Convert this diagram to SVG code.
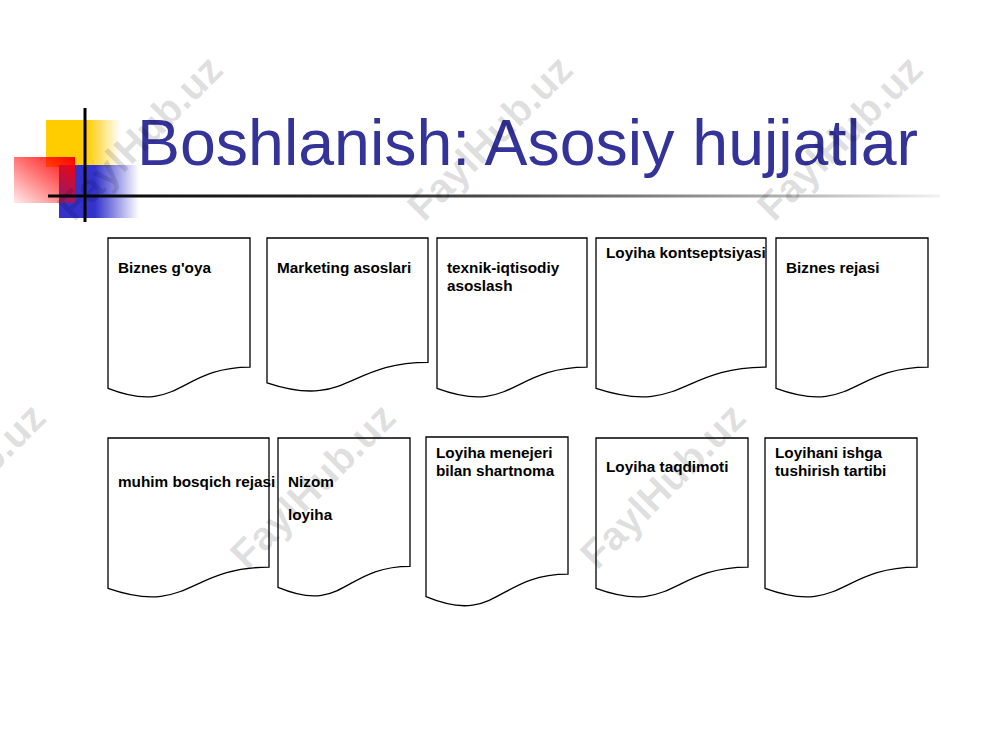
<svg xmlns="http://www.w3.org/2000/svg" width="1000" height="750" viewBox="0 0 1000 750">
<defs>
<linearGradient id="gy" x1="0" y1="0" x2="1" y2="0"><stop offset="0" stop-color="#FFCC00"/><stop offset="0.55" stop-color="#FFCC00"/><stop offset="1" stop-color="#FFCC00" stop-opacity="0"/></linearGradient>
<linearGradient id="gb" x1="0" y1="0" x2="1" y2="0"><stop offset="0" stop-color="#3333CC"/><stop offset="0.45" stop-color="#3333CC"/><stop offset="1" stop-color="#3333CC" stop-opacity="0"/></linearGradient>
<linearGradient id="gr" x1="1" y1="0" x2="0" y2="1"><stop offset="0" stop-color="#FF0000"/><stop offset="1" stop-color="#FF0000" stop-opacity="0.08"/></linearGradient>
<linearGradient id="gl" x1="0" y1="0" x2="1" y2="0"><stop offset="0" stop-color="#000"/><stop offset="0.4" stop-color="#333"/><stop offset="1" stop-color="#000" stop-opacity="0.05"/></linearGradient>
<style>
.doc{fill:#fff;stroke:#000;stroke-width:1.3}
.t{font-family:"Liberation Sans",Arial,sans-serif;font-weight:bold;font-size:15.3px;fill:#000}
.wm{font-family:"Liberation Sans",Arial,sans-serif;font-weight:bold;font-size:40px;fill:#000;fill-opacity:0.13}
</style>
</defs>
<rect width="1000" height="750" fill="#fff"/>
<g id="decor">
<rect x="46" y="120" width="74" height="47" fill="url(#gy)"/>
<rect x="59" y="165" width="80" height="53" fill="url(#gb)"/>
<rect x="14" y="157" width="61" height="46" fill="url(#gr)"/>
<line x1="85" y1="108" x2="85" y2="222" stroke="#000" stroke-width="3"/>
<rect x="48" y="194.5" width="892" height="3" fill="url(#gl)"/>
</g>
<g id="title"><text x="137" y="165" font-family="Liberation Sans,Arial,sans-serif" font-size="64" fill="#333399" textLength="781" lengthAdjust="spacingAndGlyphs">Boshlanish: Asosiy hujjatlar</text></g>
<g id="connectors"/>
<g id="n1"><path class="doc" d="M108,238 H250 V367.1 C179,367.1 179,416.2 108,388.4 Z"/><text class="t" x="118" y="273">Biznes g'oya</text></g>
<g id="n2"><path class="doc" d="M267,238 H428 V362.3 C347.5,362.3 347.5,409.6 267,382.8 Z"/><text class="t" x="277" y="273">Marketing asoslari</text></g>
<g id="n3"><path class="doc" d="M437,238 H587 V367.1 C512,367.1 512,416.2 437,388.4 Z"/><text class="t" x="447" y="273">texnik-iqtisodiy</text><text class="t" x="447" y="291">asoslash</text></g>
<g id="n4"><path class="doc" d="M596,238 H766 V367.1 C681,367.1 681,416.2 596,388.4 Z"/><text class="t" x="606" y="258">Loyiha kontseptsiyasi</text></g>
<g id="n5"><path class="doc" d="M776,238 H928 V367.1 C852,367.1 852,416.2 776,388.4 Z"/><text class="t" x="786" y="273">Biznes rejasi</text></g>
<g id="n6"><path class="doc" d="M108,438 H269 V567.1 C188.5,567.1 188.5,616.2 108,588.4 Z"/><text class="t" x="118" y="487">muhim bosqich rejasi</text></g>
<g id="n7"><path class="doc" d="M278,438 H410 V566.3 C344,566.3 344,615.1 278,587.4 Z"/><text class="t" x="288" y="487">Nizom</text><text class="t" x="288" y="520">loyiha</text></g>
<g id="n8"><path class="doc" d="M426,437 H568 V574.1 C497,574.1 497,626.3 426,596.7 Z"/><text class="t" x="436" y="458">Loyiha menejeri</text><text class="t" x="436" y="476">bilan shartnoma</text></g>
<g id="n9"><path class="doc" d="M596,438 H748 V567.1 C672,567.1 672,616.2 596,588.4 Z"/><text class="t" x="606" y="472">Loyiha taqdimoti</text></g>
<g id="n10"><path class="doc" d="M765,438 H917 V567.1 C841,567.1 841,616.2 765,588.4 Z"/><text class="t" x="775" y="458">Loyihani ishga</text><text class="t" x="775" y="476">tushirish tartibi</text></g>
<g id="watermarks">
<text class="wm" transform="translate(142,140) rotate(-45)" text-anchor="middle" dominant-baseline="middle">FaylHub.uz</text>
<text class="wm" transform="translate(492,140) rotate(-45)" text-anchor="middle" dominant-baseline="middle">FaylHub.uz</text>
<text class="wm" transform="translate(842,140) rotate(-45)" text-anchor="middle" dominant-baseline="middle">FaylHub.uz</text>
<text class="wm" transform="translate(-35,488) rotate(-45)" text-anchor="middle" dominant-baseline="middle">FaylHub.uz</text>
<text class="wm" transform="translate(315,488) rotate(-45)" text-anchor="middle" dominant-baseline="middle">FaylHub.uz</text>
<text class="wm" transform="translate(665,488) rotate(-45)" text-anchor="middle" dominant-baseline="middle">FaylHub.uz</text>
</g>
</svg>
